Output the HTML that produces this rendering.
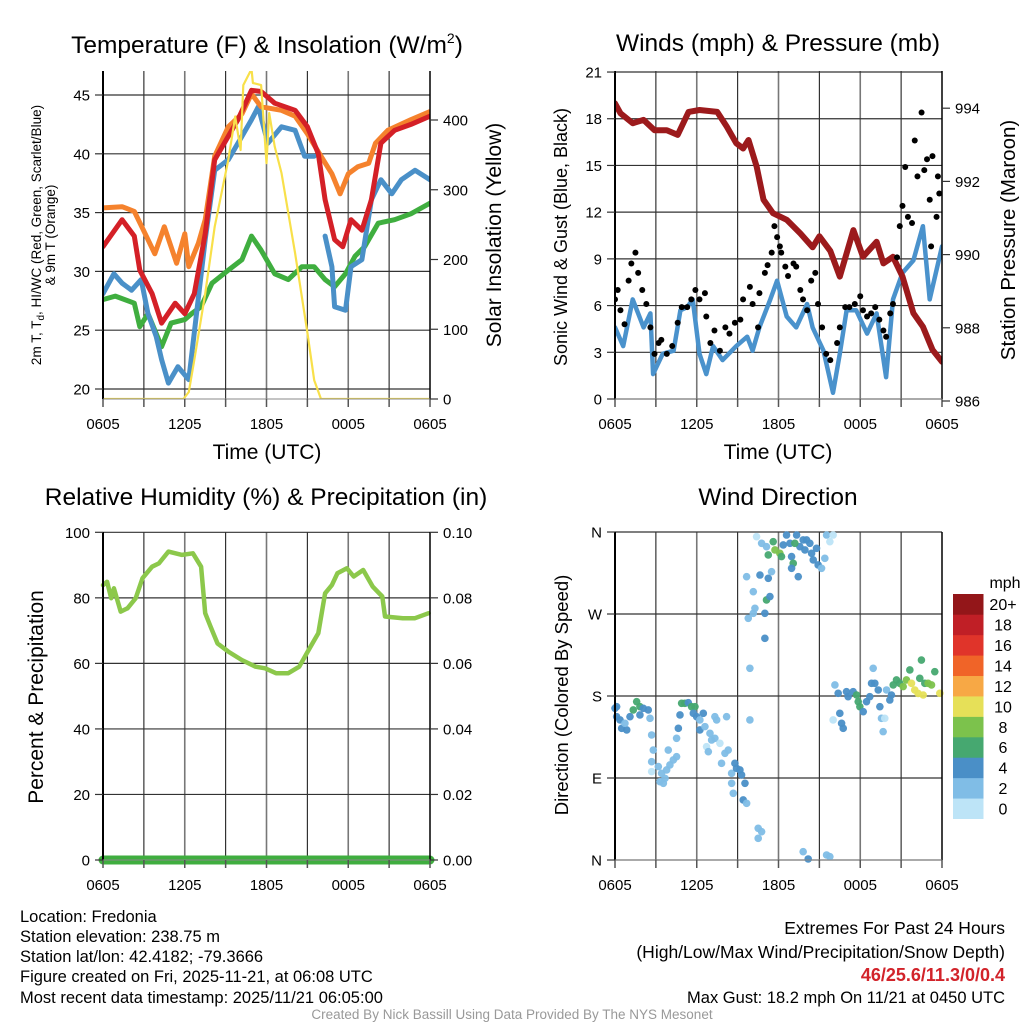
<!DOCTYPE html>
<html><head><meta charset="utf-8">
<style>
body{margin:0;background:#fff;}
svg{display:block;font-family:"Liberation Sans",sans-serif;}
</style></head>
<body>
<svg id="chart" width="1024" height="1024" viewBox="0 0 1024 1024" xmlns="http://www.w3.org/2000/svg">
<defs>
<clipPath id="c1"><rect x="103" y="71" width="327" height="328"/></clipPath>
<clipPath id="c2"><rect x="615" y="71" width="327" height="328"/></clipPath>
<clipPath id="c3"><rect x="97" y="526" width="340" height="340"/></clipPath>
<clipPath id="c4"><rect x="608" y="526" width="340" height="340"/></clipPath>
</defs>
<g id="grids"></g>
<g id="marks"></g>
<g id="axes"></g>
<g id="labels" font-size="15" fill="#000">
<text x="267" y="53" font-size="24.5" text-anchor="middle">Temperature (F) &amp; Insolation (W/m<tspan font-size="14" dy="-10">2</tspan><tspan dy="10">)</tspan></text>
<text x="778" y="51" font-size="24.5" text-anchor="middle">Winds (mph) &amp; Pressure (mb)</text>
<text x="266" y="505" font-size="24.5" text-anchor="middle">Relative Humidity (%) &amp; Precipitation (in)</text>
<text x="778" y="505" font-size="24.5" text-anchor="middle">Wind Direction</text>
<text transform="translate(41,235) rotate(-90)" font-size="13.5" text-anchor="middle">2m T, T<tspan font-size="10" dy="3">d</tspan><tspan dy="-3">, HI/WC (Red, Green, Scarlet/Blue)</tspan></text>
<text transform="translate(55,235) rotate(-90)" font-size="13.5" text-anchor="middle">&amp; 9m T (Orange)</text>
<text transform="translate(501,235) rotate(-90)" font-size="21" text-anchor="middle">Solar Insolation (Yellow)</text>
<text transform="translate(567,237) rotate(-90)" font-size="18" text-anchor="middle">Sonic Wind &amp; Gust (Blue, Black)</text>
<text transform="translate(1015,240) rotate(-90)" font-size="20.5" text-anchor="middle">Station Pressure (Maroon)</text>
<text transform="translate(43,697) rotate(-90)" font-size="21" text-anchor="middle">Percent &amp; Precipitation</text>
<text transform="translate(568,695) rotate(-90)" font-size="18.5" text-anchor="middle">Direction (Colored By Speed)</text>
<text x="267" y="459" font-size="21" text-anchor="middle">Time (UTC)</text>
<text x="778" y="459" font-size="21" text-anchor="middle">Time (UTC)</text>
<text x="1005" y="588" font-size="16" text-anchor="middle">mph</text>
<g font-size="16.5">
<text x="20" y="922">Location: Fredonia</text>
<text x="20" y="942">Station elevation: 238.75 m</text>
<text x="20" y="962">Station lat/lon: 42.4182; -79.3666</text>
<text x="20" y="982">Figure created on Fri, 2025-11-21, at 06:08 UTC</text>
<text x="20" y="1003">Most recent data timestamp: 2025/11/21 06:05:00</text>
</g>
<g font-size="17.5" text-anchor="end">
<text x="1005" y="934">Extremes For Past 24 Hours</text>
<text x="1005" y="958">(High/Low/Max Wind/Precipitation/Snow Depth)</text>
<text x="1005" y="981" fill="#d2232a" font-weight="bold" font-size="18">46/25.6/11.3/0/0.4</text>
<text x="1005" y="1003" font-size="16.5">Max Gust: 18.2 mph On 11/21 at 0450 UTC</text>
</g>
<text x="512" y="1019" font-size="13.5" fill="#999" text-anchor="middle">Created By Nick Bassill Using Data Provided By The NYS Mesonet</text>
</g>
</svg>
<script>
// ---------- data ----------
const xTickLabels = ["0605","1205","1805","0005","0605"];
const tempTicks = [20,25,30,35,40,45];
const insolTicks = [0,100,200,300,400];
const windTicks = [0,3,6,9,12,15,18,21];
const presTicks = [986,988,990,992,994];
const rhTicks = [0,20,40,60,80,100];
const precTicks = ["0.00","0.02","0.04","0.06","0.08","0.10"];
const dirTicks = ["N","E","S","W","N"];
const speedBins = ["0","2","4","6","8","10","12","14","16","18","20+"];

const redH = [0,1.4,2.3,2.7,3.6,4.3,5.3,6,6.7,7.5,8.2,9.2,9.9,10.9,11.6,12.6,14.1,15,15.8,16.3,17,17.6,18.2,19,19.7,20.4,21.4,22.6,24];
const redT = [32.1,34.4,33,30.1,28.1,25.6,27.3,26.4,28.1,33.2,39.5,41.5,42.9,45.4,45.3,44.3,43.7,42.3,40,36.1,32.7,32.1,34.4,33.5,36.1,40.9,42,42.5,43.2];
const orangeH = [0,1.4,2.3,3.1,3.8,4.5,5.4,6,6.3,7,7.5,8.2,9.2,10.2,10.9,11.6,13.1,14.1,15,16,16.8,17.4,18,18.7,19.5,20,20.9,22.6,24];
const orangeT = [35.4,35.5,35.1,33.2,31.5,33.8,30.7,33.2,30.4,32.4,34.4,39.8,42.3,43.4,45.1,44,43.7,43.2,41.7,39.8,38.3,36.6,38.3,38.9,39.2,40.9,42,42.9,43.6];
const blueH = [0,0.8,1.4,2.1,2.8,3.3,3.9,4.3,4.8,5.5,6.3,6.7,7.5,8.2,9.2,10.2,10.9,11.4,12.1,13.1,14.1,14.8,15.5];
const blueT = [28.1,29.8,29,28.4,29.3,26.4,24.5,22.5,20.5,21.9,20.8,24.8,32.7,38.6,39.5,41.5,42.9,44,40.9,42.3,42,39.8,39.8];
const blue2H = [16.3,16.8,17,17.8,18.2,19,19.7,20.4,21.2,21.9,22.9,24];
const blue2T = [33,30.4,27,26.7,30.4,31,36.1,37.8,36.6,37.8,38.6,37.8];
const greenH = [0,0.9,2.3,2.7,3.3,4.3,5,6,6.5,7.2,8,9.2,10.2,10.9,11.6,12.6,13.6,14.6,15.5,16.3,17,17.8,18.5,19.2,20.2,21.4,22.6,24];
const greenT = [27.6,27.9,27.3,25.3,26.4,23.6,25.6,25.9,26.4,27,29,30.1,31,33,31.8,29.8,29.3,30.4,30.4,29.3,28.7,29.8,31.3,32.1,34.1,34.4,34.9,35.8];
const solH = [0,5.9,6.3,6.7,7.5,8.2,9.2,9.7,10.1,10.3,10.9,11,11.6,12,12.2,12.6,13.1,14.1,15,15.5,16,24];
const solW = [0,0,10,56,151,247,343,405,357,450,473,453,450,338,410,362,324,209,95,27,0,0];

const presH = [0,0.4,1.3,2.1,2.9,3.8,4.6,5.4,6.2,7.5,8.2,8.9,9.4,9.8,10.4,10.9,11.6,12.6,13.6,14.5,15,15.8,16.5,17.5,18.2,19.2,19.7,20.4,21.1,21.9,22.6,23.3,24];
const presMb = [994.13,993.86,993.59,993.68,993.4,993.4,993.27,993.9,993.95,993.9,993.5,993.04,992.9,993.13,992.4,991.5,991.13,990.95,990.58,990.2,990.5,990.1,989.4,990.67,989.94,990.35,989.76,989.94,989.4,988.4,988.03,987.4,987.07];
const windH = [0,0.6,1.3,2.1,2.6,2.8,3.5,4.3,4.8,5.3,5.7,6.2,6.7,7.2,7.9,8.9,9.7,10.1,10.6,11.4,11.9,12.6,13.3,14.1,14.5,15.3,16,16.5,17,17.7,18.5,19.2,19.9,20.4,21.1,21.9,22.6,23.1,24];
const windMph = [4.6,3.4,6.4,4.6,5.5,1.6,2.9,3.1,5.7,5.9,6.4,2.9,1.6,3.4,2.5,3.4,4,3.1,4.6,6.4,7.6,5.3,4.6,6.1,4.6,3.1,0.4,2.9,5.7,5.7,4.2,5.5,1.4,6.4,8.1,8.9,11.1,6.4,9.8];
const gustH = [0,0.2,0.4,0.7,1.0,1.2,1.5,1.7,2.0,2.3,2.6,2.9,3.2,3.4,3.8,4.2,4.6,4.9,5.3,5.6,5.9,6.2,6.6,6.7,7.0,7.3,7.7,8.1,8.4,8.8,9.2,9.4,9.9,10.1,10.5,10.6,11.0,11.2,11.5,11.7,11.9,12.1,12.2,12.5,12.7,13.1,13.3,13.6,13.8,14.1,14.4,14.7,14.9,15.2,15.5,15.8,16.3,16.5,16.9,17.2,17.6,18.0,18.2,18.5,18.8,19.1,19.4,19.7,19.9,20.2,20.4,20.7,20.9,21.1,21.3,21.5,21.8,22.0,22.2,22.5,22.7,22.9,23.1,23.2,23.3,23.6,23.7,23.8];
const gustMph = [6.4,7.0,5.7,4.8,7.6,8.7,9.4,8.1,7.0,6.1,4.6,2.9,3.6,3.8,2.9,3.4,4.9,5.9,5.9,6.4,7.0,6.4,6.8,5.3,3.6,4.4,3.1,4.6,4.2,4.9,5.1,6.4,7.2,6.1,4.6,6.8,8.1,8.6,9.4,11.1,10.4,9.8,9.4,8.5,7.9,8.7,8.5,7.0,6.4,5.7,7.6,8.1,6.1,4.6,2.9,2.5,3.6,4.6,5.9,5.9,6.1,6.6,5.7,5.3,5.5,5.9,5.1,4.4,4.0,5.5,6.1,9.1,11.1,12.4,14.9,11.7,11.3,16.6,14.3,18.4,14.7,15.4,12.8,9.8,15.6,11.7,14.3,13.2];

const rhH = [0,0.3,0.6,0.8,1.3,1.8,2.4,2.9,3.6,4.1,4.8,5.8,6.6,7.2,7.5,7.9,8.4,9.2,10.2,11.2,11.9,12.7,13.6,14.4,15.1,15.8,16.3,16.8,17.2,17.9,18.4,19.1,19.8,20.5,20.7,22,22.9,23.9];
const rhPct = [83.9,84.9,79.9,82.9,75.8,76.8,79.9,86,89.5,90.5,94.1,93.1,93.6,89.5,75.3,71.2,66.1,63.6,61,59,58.5,57,57,59,64.1,69.2,81.4,83.9,87.5,89,86.5,88.5,83.4,80.4,74.3,73.8,73.8,75.3];
const precH = [0,24];
const precIn = [0,0];

const dirH = [0,0.12,0.12,0.37,0.49,0.86,0.73,1.1,1.34,1.59,1.83,2.08,2.44,1.83,2.57,2.69,
2.81,2.69,2.69,3.18,3.3,3.55,3.67,3.42,3.79,4.03,4.28,4.52,3.91,4.52,4.65,4.77,4.89,5.13,5.38,5.62,5.87,5.75,5.99,6.23,6.48,6.23,6.6,6.97,7.09,7.33,7.46,7.33,8.19,7.7,6.72,6.85,8.07,8.31,7.82,8.56,8.8,8.92,9.17,9.29,8.56,8.68,9.54,9.41,9.66,
10.51,10.76,10.51,9.9,9.9,9.78,10.15,10.27,10.15,11,11,11.12,11.37,9.66,10.64,11.25,11.49,10.39,10.76,11.12,11.25,11.61,11.74,12.1,12.22,12.35,12.59,12.84,12.96,13.08,12.96,13.45,13.33,13.57,13.81,13.94,13.2,14.06,14.3,14.43,14.55,14.79,14.91,15.16,15.4,15.53,15.77,16.01,
13.81,14.18,15.53,15.77,
16.01,16.14,16.38,16.5,16.63,16.75,16.99,17.11,17.48,17.73,17.85,17.97,18.22,18.46,18.7,18.83,18.95,19.07,19.32,19.44,19.56,19.68,19.8,19.93,20.17,20.29,20.42,20.66,20.9,21.15,21.39,21.64,21.76,22,22.25,22.49,22.37,22.62,22.74,22.98,23.23,23.47,23.84];
const dirDeg = [166.5,168.3,157.3,153.7,144.5,142.7,150,157.3,164.7,173.8,168.3,166.5,164.7,159.2,155.5,137.2,
120.7,107.9,97,102.5,86,84.2,89.6,95.1,98.8,104.3,109.8,113.4,120.7,133.6,144.5,159.2,172,172,172.7,168.3,168.3,161,157.3,153.7,161,142.7,146.4,139,131.7,133.6,153.7,157.3,157.3,128.1,124.4,118.9,117.1,120.7,106.1,95.1,106.1,100.6,98.8,93.3,84.2,73.2,84.2,65.9,62.2,
34.8,31.1,23.8,153.7,210.4,265.3,270.8,276.3,294.5,270.8,243.3,285.4,289.1,311,312.8,309.2,316.5,354.9,347.6,343.9,334.8,349.4,340.3,336.6,333,345.8,356.7,347.6,333,325.6,320.2,311,356.7,343.9,351.3,340.3,347.6,351.3,347.6,336.6,329.3,342.1,323.8,320.2,331.1,356.7,349.4,356.7,
9.1,1.1,5.5,3.7,
153.7,192.1,183,161,150,144.5,184.8,179.3,184.8,181.1,173.8,168.3,162.8,173.8,179.3,193.9,210.4,193.9,186.6,168.3,155.5,140.9,155.5,186.6,175.6,181.1,192.1,197.6,193.9,190.3,197.6,208.6,193.9,186.6,182.8,219.5,199.4,181.1,193.9,193.9,192.1,206.7,183];
const dirSpd = [4,4,4,4,4,4,2,4,6,6,6,4,4,4,2,2,
2,2,0,2,2,2,2,2,2,2,2,2,2,2,4,4,6,6,4,6,6,4,4,2,4,4,2,2,2,2,2,2,2,0,0,2,2,2,2,2,4,4,4,4,2,2,4,4,2,
2,2,2,2,2,2,2,2,2,4,4,6,4,2,4,4,2,0,2,2,6,6,8,8,6,4,4,4,4,6,4,4,4,4,4,4,6,4,4,4,4,4,4,2,2,2,0,0,
2,4,2,2,
0,2,4,4,4,4,4,4,4,6,6,6,4,4,4,4,2,4,4,4,2,2,0,2,4,4,6,6,6,8,8,6,10,10,10,6,6,10,6,8,8,6,10];

// ---------- helpers ----------
const NS = "http://www.w3.org/2000/svg";
const grids = document.getElementById('grids');
const marks = document.getElementById('marks');
const axes = document.getElementById('axes');
function mk(tag, attrs, parent){ const e=document.createElementNS(NS,tag); for(const k in attrs) e.setAttribute(k,attrs[k]); parent.appendChild(e); return e; }
const W = 327;
const xT = h => 103 + h/24*W;
const xW = h => 615 + h/24*W;
const yTemp = t => 95 + (45 - t)*11.76;
const yIns = w => 399 - w*0.6975;
const yWind = m => 399 - m*15.57;
const yPres = p => 401 - (p - 986)*36.6;
const yRH = v => 860 - v*3.277;
const yDir = d => 860 - d*0.9111;
const spdColors = ["#bde4f7","#80bde6","#4a8fc7","#46a870","#7cc24c","#e6e058","#f7a845","#f06428","#e0342a","#c01f26","#931619"];

function panelFrame(x0, y0, y1, hLines, name){
  const g = mk('g',{},grids);
  
  
  for(let i=1;i<8;i++){
    const x = x0 + i*W/8;
    mk('line',{x1:x,x2:x,y1:y0,y2:y1,stroke: i%2==0?'#777':'#222','stroke-width':i%2==0?1.6:1.1},g);
  }
  hLines.forEach(y=>mk('line',{x1:x0,x2:x0+W,y1:y,y2:y,stroke:'#333','stroke-width':1.2},g));
  const a = mk('g',{},axes);
  
  
  mk('line',{x1:x0,x2:x0,y1:y0,y2:y1,stroke:'#000','stroke-width':2},a);
  mk('line',{x1:x0+W,x2:x0+W,y1:y0,y2:y1,stroke:'#000','stroke-width':1.5},a);
  mk('line',{x1:x0,x2:x0+W,y1:y1,y2:y1,stroke:'#888','stroke-width':1},a);
  for(let i=0;i<=8;i++){
    const x = x0 + i*W/8;
    mk('line',{x1:x,x2:x,y1:y1,y2:y1+8,stroke:'#555','stroke-width':1.5},a);
  }
  xTickLabels.forEach((s,i)=>{
    const t = mk('text',{x:x0+i*W/4,y:y1+30,'text-anchor':'middle','font-size':15},a);
    t.textContent = s;
  });
}
function yLabels(vals, yf, x, anchor, name, fmt){
  const g = mk('g',{},axes);
  
  
  vals.forEach(v=>{
    const y = yf(v);
    const tx = anchor==='end' ? x-13 : x+13;
    mk('line',{x1:x,x2:anchor==='end'?x-8:x+8,y1:y,y2:y,stroke:'#333','stroke-width':1.2},g);
    const t = mk('text',{x:tx,y:y+5.5,'text-anchor':anchor,'font-size':15},g);
    t.textContent = fmt ? fmt(v) : v;
  });
}
function line(hs, vs, xf, yf, color, w, clip, name){
  const d = hs.map((h,i)=>(i?'L':'M')+xf(h).toFixed(1)+','+yf(vs[i]).toFixed(1)).join('');
  const p = mk('path',{d:d,fill:'none',stroke:color,'stroke-width':w,'stroke-linejoin':'round','stroke-linecap':'round','clip-path':'url(#'+clip+')'},marks);
  
  
  return p;
}

// ---------- panel 1 ----------
panelFrame(103,71,399,tempTicks.map(yTemp),'temp-panel');
yLabels(tempTicks,yTemp,103,'end','temp-y-axis');
yLabels(insolTicks,yIns,430,'start','insolation-y-axis');
line(greenH,greenT,xT,yTemp,'#3fae3f',5,'c1','dewpoint-line');
line(blueH,blueT,xT,yTemp,'#4a90c8',5,'c1','windchill-line');
line(blue2H,blue2T,xT,yTemp,'#4a90c8',5,'c1','windchill-line-2');
line(orangeH,orangeT,xT,yTemp,'#f5822d',5,'c1','temp-9m-line');
line(redH,redT,xT,yTemp,'#d42027',5,'c1','temp-2m-line');
line(solH,solW,xT,yIns,'#f8e04a',2.2,'c1','insolation-line');

// ---------- panel 2 ----------
panelFrame(615,71,399,windTicks.map(yWind),'wind-panel');
yLabels(windTicks,yWind,615,'end','wind-y-axis');
yLabels(presTicks,yPres,942,'start','pressure-y-axis');
line(windH,windMph,xW,yWind,'#4a92cc',4.5,'c2','sonic-wind-line');
line(presH,presMb,xW,yPres,'#9c1a1c',6,'c2','pressure-line');
const gg = mk('g',{'clip-path':'url(#c2)'},marks);


gustH.forEach((h,i)=>{
  const c = mk('circle',{cx:xW(h),cy:yWind(gustMph[i]),r:3,fill:'#000'},gg);
  
  
});

// ---------- panel 3 ----------
panelFrame(103,532,860,rhTicks.map(yRH),'rh-panel');
yLabels(rhTicks,yRH,103,'end','rh-y-axis');
yLabels(rhTicks,yRH,430,'start','precip-y-axis',v=>precTicks[rhTicks.indexOf(v)]);
line(rhH,rhPct,xT,yRH,'#8cc84b',4.5,'c3','rh-line');
line(precH,precIn,xT,v=>yRH(v*1000),'#3fae3f',9,'c3','precip-line');

// ---------- panel 4 ----------
panelFrame(615,532,860,[0,90,180,270,360].map(yDir),'dir-panel');
yLabels([0,90,180,270,360],yDir,615,'end','dir-y-axis',v=>dirTicks[v/90]);
const dg = mk('g',{'clip-path':'url(#c4)'},marks);


dirH.forEach((h,i)=>{
  const c = mk('circle',{cx:xW(h),cy:yDir(dirDeg[i]),r:3.8,fill:spdColors[Math.min(10,Math.floor(dirSpd[i]/2))],opacity:0.95},dg);
  
  
});

// ---------- colorbar ----------
const cb = mk('g',{},axes);


const bh = (818.7-594)/speedBins.length;
speedBins.forEach((s,i)=>{
  const y = 818.7 - (i+1)*bh;
  const r = mk('rect',{x:953,y:y,width:30.5,height:bh+0.3,fill:spdColors[i]},cb);
  
  
  const t = mk('text',{x:1003,y:y+bh/2+6,'text-anchor':'middle','font-size':16},cb);
  t.textContent = s;
});
</script>
</body></html>
